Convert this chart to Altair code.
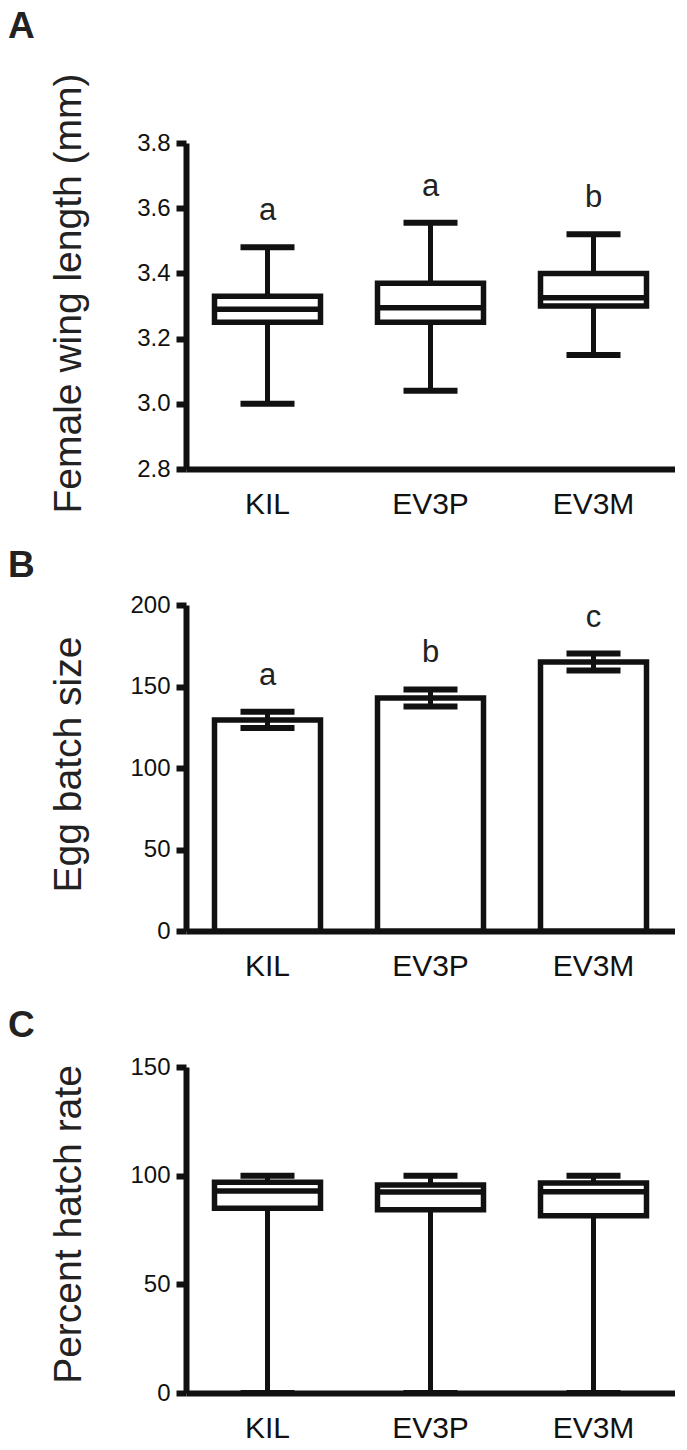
import altair as alt
import pandas as pd

groups = ["KIL", "EV3P", "EV3M"]

# Panel A: female wing length (mm), box plots
wing_min = [3.00, 3.04, 3.15]
wing_q1 = [3.25, 3.25, 3.30]
wing_med = [3.29, 3.295, 3.325]
wing_q3 = [3.33, 3.37, 3.40]
wing_max = [3.48, 3.555, 3.52]
wing_sig = ["a", "a", "b"]

# Panel B: egg batch size, mean +/- SE
egg_mean = [129.5, 143.0, 165.0]
egg_err = [5.0, 5.2, 5.2]
egg_sig = ["a", "b", "c"]

# Panel C: percent hatch rate, box plots
hatch_min = [0, 0, 0]
hatch_q1 = [85.0, 84.3, 81.5]
hatch_med = [93.0, 92.5, 92.6]
hatch_q3 = [97.0, 95.7, 96.6]
hatch_max = [100, 100, 100]

FONT = "Liberation Sans"
INK = "#111111"
W, H = 489, 326

xenc = alt.X(
    "group:N",
    sort=groups,
    scale=alt.Scale(domain=groups, paddingInner=0, paddingOuter=0),
    axis=alt.Axis(title=None, ticks=False, labelAngle=0, labelFontSize=30,
                  labelPadding=20),
)


def yenc(field, title, domain, values, fmt, tx, ty):
    return alt.Y(
        f"{field}:Q",
        scale=alt.Scale(domain=domain, nice=False, zero=False),
        title=title,
        axis=alt.Axis(values=values, format=fmt, titleX=tx, titleY=ty,
                      titleBaseline="bottom", titleAngle=270),
    )


def tick(base, size, thick):
    return base.mark_tick(size=size, thickness=thick, color=INK, opacity=1)


def box_panel(df, title, domain, values, fmt, ty, letter, letter_dy, sig=None):
    Y = lambda f: yenc(f, title, domain, values, fmt, -98, ty)
    base = alt.Chart(df)
    whisk = base.mark_rule(color=INK, strokeWidth=5).encode(x=xenc, y=Y("lo"), y2="hi")
    box = base.mark_bar(size=106, fill="white", stroke=INK, strokeWidth=5.5,
                        opacity=1).encode(x=xenc, y=Y("q1"), y2="q3")
    med = tick(base, 106, 5.5).encode(x=xenc, y=Y("med"))
    cap_lo = tick(base, 54, 6).encode(x=xenc, y=Y("lo"))
    cap_hi = tick(base, 54, 6).encode(x=xenc, y=Y("hi"))
    layers = [whisk, box, med, cap_lo, cap_hi]
    if sig is not None:
        txt = base.mark_text(dy=-27, baseline="alphabetic", fontSize=31, font=FONT,
                             color="#222222").encode(x=xenc, y=Y("hi"), text="sig:N")
        layers.append(txt)
    return alt.layer(*layers).properties(
        width=W, height=H,
        title=alt.TitleParams(letter, anchor="start", frame="group", fontSize=37,
                              fontWeight="bold", font=FONT, color="#222222",
                              dx=-178, dy=letter_dy, offset=0),
    )


dfA = pd.DataFrame({"group": groups, "lo": wing_min, "q1": wing_q1, "med": wing_med,
                    "q3": wing_q3, "hi": wing_max, "sig": wing_sig})
dfC = pd.DataFrame({"group": groups, "lo": hatch_min, "q1": hatch_q1, "med": hatch_med,
                    "q3": hatch_q3, "hi": hatch_max})

panelA = box_panel(dfA, "Female wing length (mm)", [2.8, 3.8],
                   [2.8, 3.0, 3.2, 3.4, 3.6, 3.8], ".1f", 150, "A", -27, sig=True)
panelC = box_panel(dfC, "Percent hatch rate", [0, 150], [0, 50, 100, 150], "d",
                   157, "C", -10)

dfB = pd.DataFrame({"group": groups, "mean": egg_mean, "err": egg_err, "sig": egg_sig})
baseB = alt.Chart(dfB).transform_calculate(
    lo="datum.mean - datum.err", hi="datum.mean + datum.err")
YB = lambda f: yenc(f, "Egg batch size", [0, 200], [0, 50, 100, 150, 200], "d", -98, 159)
barB = baseB.mark_bar(size=106, fill="white", stroke=INK, strokeWidth=5.5,
                      opacity=1).encode(x=xenc, y=YB("mean"))
errB = baseB.mark_rule(color=INK, strokeWidth=5).encode(x=xenc, y=YB("lo"), y2="hi")
capBlo = tick(baseB, 54, 6).encode(x=xenc, y=YB("lo"))
capBhi = tick(baseB, 54, 6).encode(x=xenc, y=YB("hi"))
txtB = baseB.mark_text(dy=-27, baseline="alphabetic", fontSize=31, font=FONT,
                       color="#222222").encode(x=xenc, y=YB("hi"), text="sig:N")
panelB = alt.layer(barB, errB, capBlo, capBhi, txtB).properties(
    width=W, height=H,
    title=alt.TitleParams("B", anchor="start", frame="group", fontSize=37,
                          fontWeight="bold", font=FONT, color="#222222",
                          dx=-178, dy=-8, offset=0),
)

chart = alt.vconcat(panelA, panelB, panelC, spacing=136, bounds="flush").properties(
    padding=0
).configure_view(stroke=None).configure_axis(
    domainColor=INK, domainWidth=6, tickColor=INK, tickWidth=6, tickSize=10,
    labelFont=FONT, labelFontSize=24, labelColor="#111111", labelPadding=6,
    titleFont=FONT, titleFontSize=39, titleFontWeight="normal", titleColor="#222222",
    grid=False,
)

chart.save("out.html", embed_options={"renderer": "svg", "actions": False})
